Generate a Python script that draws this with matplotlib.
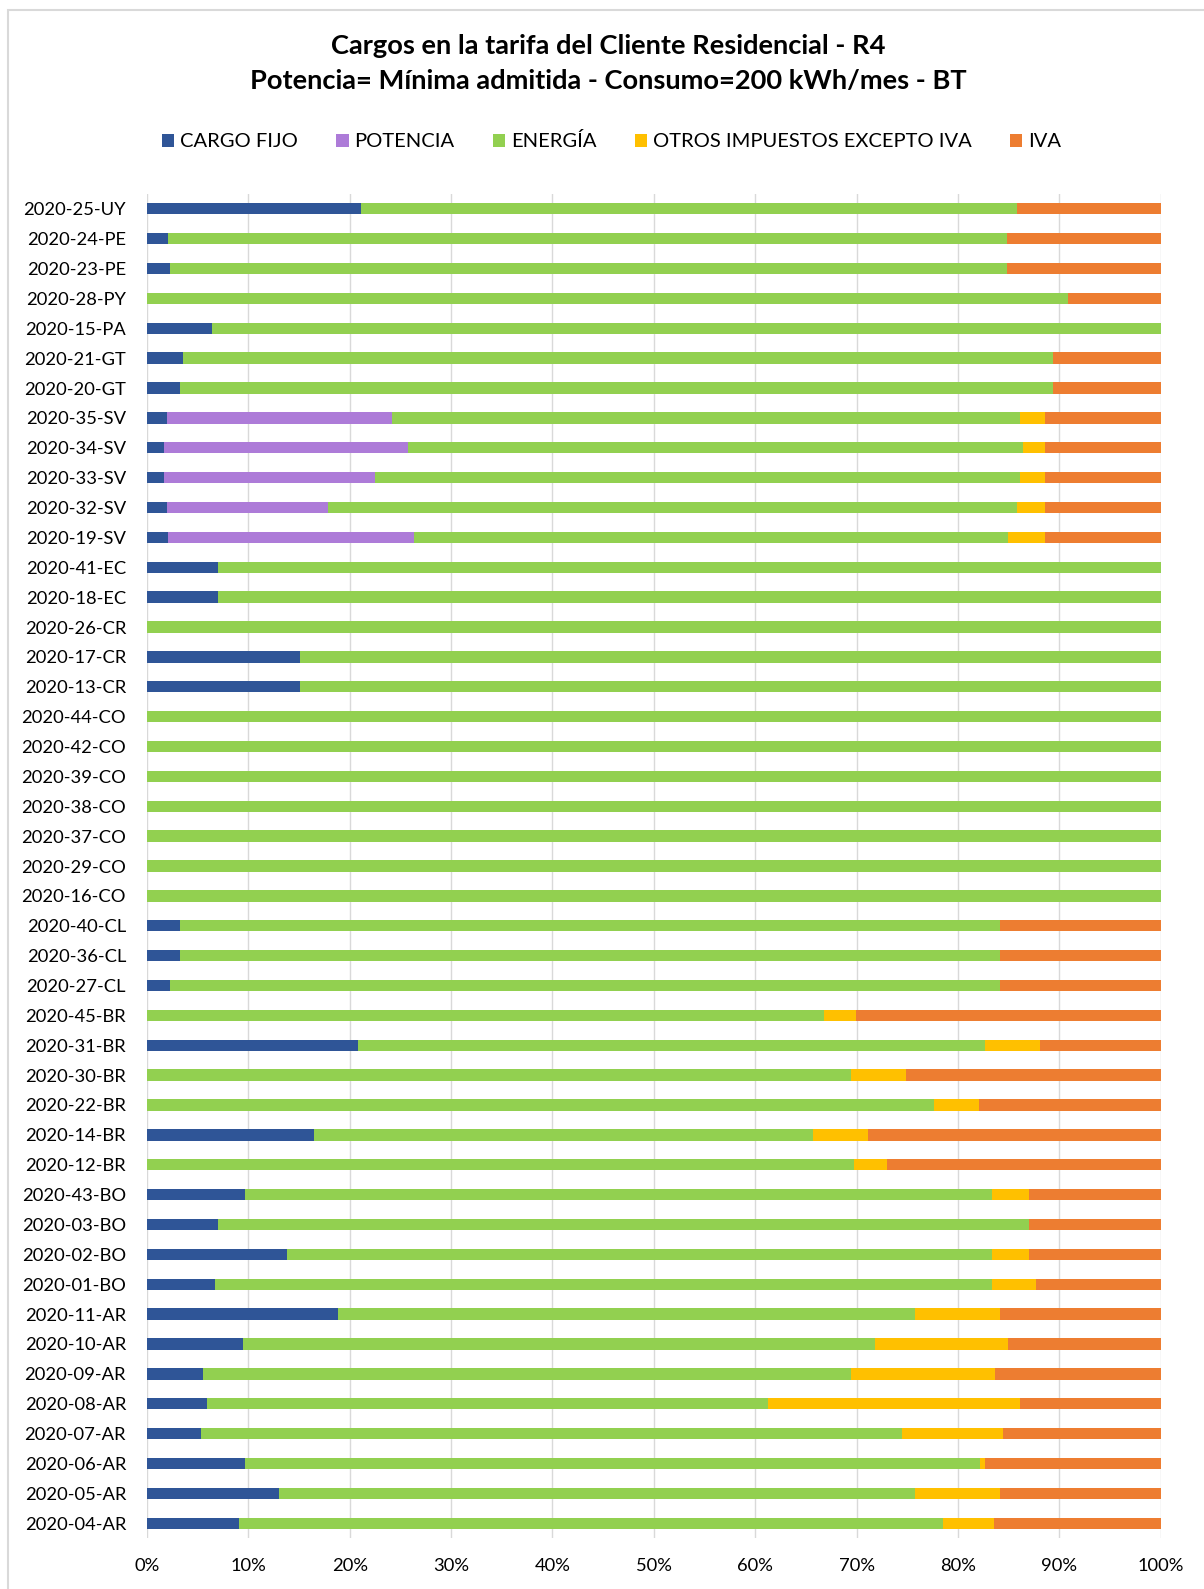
import matplotlib.pyplot as plt
from matplotlib.patches import Rectangle
from matplotlib.ticker import PercentFormatter
import numpy as np

plt.rcParams['font.family'] = ['Lato', 'DejaVu Sans']

# categories, top to bottom as in the chart
categorias = [
    "2020-25-UY", "2020-24-PE", "2020-23-PE", "2020-28-PY", "2020-15-PA",
    "2020-21-GT", "2020-20-GT", "2020-35-SV", "2020-34-SV", "2020-33-SV",
    "2020-32-SV", "2020-19-SV", "2020-41-EC", "2020-18-EC", "2020-26-CR",
    "2020-17-CR", "2020-13-CR", "2020-44-CO", "2020-42-CO", "2020-39-CO",
    "2020-38-CO", "2020-37-CO", "2020-29-CO", "2020-16-CO", "2020-40-CL",
    "2020-36-CL", "2020-27-CL", "2020-45-BR", "2020-31-BR", "2020-30-BR",
    "2020-22-BR", "2020-14-BR", "2020-12-BR", "2020-43-BO", "2020-03-BO",
    "2020-02-BO", "2020-01-BO", "2020-11-AR", "2020-10-AR", "2020-09-AR",
    "2020-08-AR", "2020-07-AR", "2020-06-AR", "2020-05-AR", "2020-04-AR",
]

# shares in %
cargo_fijo = [
    21.1, 2.1, 2.3, 0.0, 6.4, 3.6, 3.3, 2.0, 1.7, 1.7, 2.0, 2.1, 7.0, 7.0, 0.0,
    15.1, 15.1, 0, 0, 0, 0, 0, 0, 0, 3.3, 3.3, 2.3, 0.0, 20.8, 0.0, 0.0, 16.5,
    0.0, 9.7, 7.0, 13.8, 6.7, 18.9, 9.5, 5.5, 5.9, 5.3, 9.7, 13.0, 9.1,
]
potencia = [
    0, 0, 0, 0, 0, 0, 0, 22.2, 24.1, 20.8, 15.9, 24.2, 0, 0, 0,
    0, 0, 0, 0, 0, 0, 0, 0, 0, 0, 0, 0, 0, 0, 0, 0, 0,
    0, 0, 0, 0, 0, 0, 0, 0, 0, 0, 0, 0, 0,
]
energia = [
    64.7, 82.7, 82.5, 90.9, 93.6, 85.8, 86.1, 61.9, 60.6, 63.6, 67.9, 58.6, 93.0, 93.0, 100.0,
    84.9, 84.9, 100, 100, 100, 100, 100, 100, 100, 80.9, 80.9, 81.9, 66.8, 61.9, 69.5, 77.6, 49.2,
    69.8, 73.7, 80.0, 69.6, 76.7, 56.9, 62.3, 64.0, 55.4, 69.2, 72.5, 62.8, 69.4,
]
otros_impuestos = [
    0, 0, 0, 0, 0, 0, 0, 2.5, 2.2, 2.5, 2.8, 3.7, 0, 0, 0,
    0, 0, 0, 0, 0, 0, 0, 0, 0, 0, 0, 0, 3.1, 5.4, 5.4, 4.5, 5.4,
    3.2, 3.6, 0.0, 3.6, 4.3, 8.4, 13.1, 14.2, 24.8, 9.9, 0.5, 8.4, 5.1,
]
iva = [
    14.2, 15.2, 15.2, 9.1, 0.0, 10.6, 10.6, 11.4, 11.4, 11.4, 11.4, 11.4, 0, 0, 0,
    0, 0, 0, 0, 0, 0, 0, 0, 0, 15.8, 15.8, 15.8, 30.1, 11.9, 25.1, 17.9, 28.9,
    27.0, 13.0, 13.0, 13.0, 12.3, 15.8, 15.1, 16.3, 13.9, 15.6, 17.3, 15.8, 16.4,
]

series = [
    ("CARGO FIJO", cargo_fijo, "#2F5597"),
    ("POTENCIA", potencia, "#AD7BD8"),
    ("ENERGÍA", energia, "#92D050"),
    ("OTROS IMPUESTOS EXCEPTO IVA", otros_impuestos, "#FFC000"),
    ("IVA", iva, "#ED7D31"),
]

fig = plt.figure(figsize=(12.04, 15.89), dpi=100)
ax = fig.add_axes([0.122, 0.032, 0.842, 0.846])

y = np.arange(len(categorias))
total = np.sum([np.array(s[1], dtype=float) for s in series], axis=0)
izquierda = np.zeros(len(categorias))
for nombre, valores, color in series:
    frac = np.array(valores, dtype=float) / total
    ax.barh(y, frac, left=izquierda, height=0.38, color=color, label=nombre, zorder=3)
    izquierda += frac

ax.set_yticks(y)
ax.set_yticklabels(categorias, fontsize=13.2)
ax.set_ylim(len(categorias) - 0.5, -0.5)
ax.set_xlim(0, 1)
ax.set_xticks(np.linspace(0, 1, 11))
ax.xaxis.set_major_formatter(PercentFormatter(1.0, decimals=0))
ax.tick_params(axis='both', length=0)
ax.tick_params(axis='x', pad=14, labelsize=13.2)
ax.tick_params(axis='y', pad=15)
ax.grid(axis='x', color='#d9d9d9', linewidth=1, zorder=0)
for lado in ax.spines.values():
    lado.set_visible(False)

fig.text(0.505, 0.971, "Cargos en la tarifa del Cliente Residencial - R4",
         ha='center', va='center', fontsize=19.6, fontweight='bold')
fig.text(0.505, 0.949, "Potencia= Mínima admitida - Consumo=200 kWh/mes - BT",
         ha='center', va='center', fontsize=19.6, fontweight='bold')

fig.legend(loc='center', bbox_to_anchor=(0.508, 0.911), ncol=5, frameon=False,
           fontsize=14.5, handlelength=0.6, handleheight=0.6, handletextpad=0.3,
           columnspacing=1.9)

fig.patches.append(Rectangle((0.007, -0.01), 1.0, 1.004, transform=fig.transFigure,
                             fill=False, edgecolor='#d9d9d9', linewidth=1.5))

fig.savefig("out.png", dpi=100)
